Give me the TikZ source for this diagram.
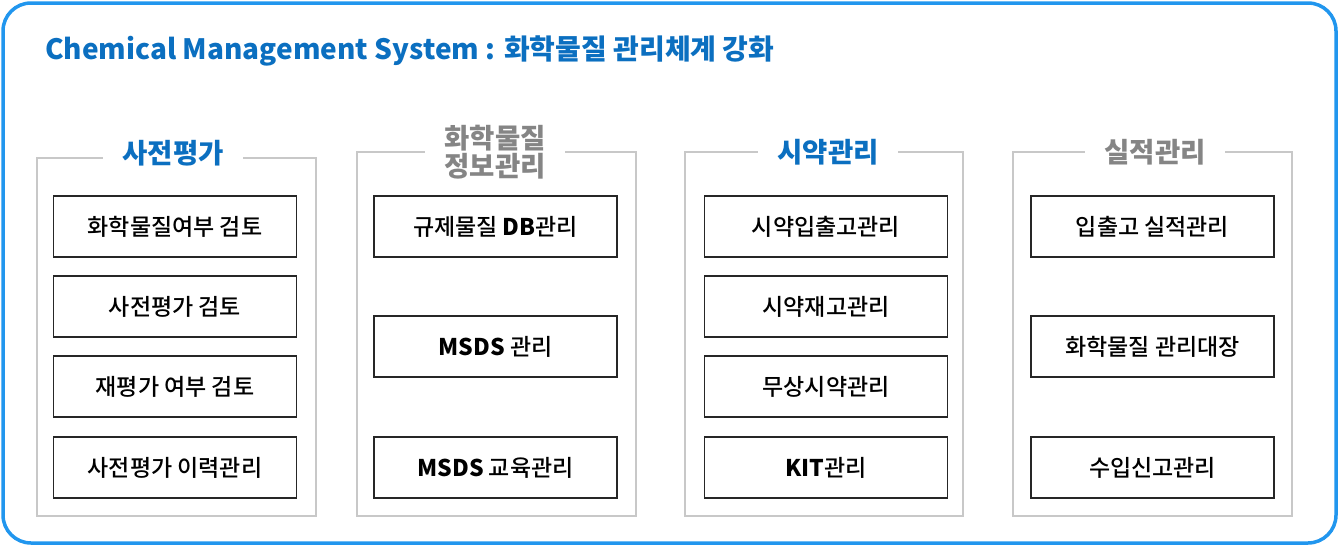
\documentclass[tikz,border=0pt]{standalone}
\usepackage{fontspec}
\setmainfont{Noto Sans CJK KR}
\newfontfamily\itemfont{Noto Sans CJK KR Medium}
\definecolor{frameblue}{HTML}{2196EE}
\definecolor{headblue}{HTML}{0B6FC0}
\definecolor{headgray}{HTML}{858585}
\definecolor{linegray}{HTML}{C8C8C8}

\begin{document}
\begin{tikzpicture}[
		x=1pt,y=-1pt,
		outer/.style={draw=frameblue,line width=3.5pt,rounded corners=28pt},
		group/.style={draw=linegray,line width=1.3pt},
		item/.style={draw=black!85,line width=1.3pt,minimum width=243pt,minimum height=61pt,inner sep=0pt,font=\itemfont\fontsize{23}{27}\selectfont},
		head/.style={fill=white,inner xsep=19pt,inner ysep=1pt,align=center,font=\bfseries\fontsize{27.5}{28}\selectfont}
		]
		\useasboundingbox (0,0) rectangle (1339,546);
		\draw[outer] (3,3) rectangle (1336,543);
		\node[anchor=west,inner sep=0pt,text=headblue,font=\bfseries\fontsize{28}{30}\selectfont] (title) at (45,51) {Chemical Management System : 화학물질 관리체계 강화};
		
		% frames
		\draw[group] (37,158) rectangle (316,516);
		\draw[group] (357,152) rectangle (636,516);
		\draw[group] (685,152) rectangle (963,516);
		\draw[group] (1013,152) rectangle (1292,516);
		
		% headings
		\node[head,text=headblue] (pre) at (173,153) {사전평가};
		\node[head,text=headgray] (info) at (495,152) {화학물질\\정보관리};
		\node[head,text=headblue] (reag) at (828,152) {시약관리};
		\node[head,text=headgray] (perf) at (1155,152) {실적관리};
		
		% items
		\node[item] (pre1) at (175,226.5) {화학물질여부 검토};
		\node[item] (pre2) at (175,306.5) {사전평가 검토};
		\node[item] (pre3) at (175,386.5) {재평가 여부 검토};
		\node[item] (pre4) at (175,467.5) {사전평가 이력관리};
		
		\node[item] (info1) at (495.5,226.5) {규제물질 \textbf{DB}관리};
		\node[item] (info2) at (495.5,346.5) {\textbf{MSDS} 관리};
		\node[item] (info3) at (495.5,467.5) {\textbf{MSDS} 교육관리};
		
		\node[item] (reag1) at (826,226.5) {시약입출고관리};
		\node[item] (reag2) at (826,306.5) {시약재고관리};
		\node[item] (reag3) at (826,386.5) {무상시약관리};
		\node[item] (reag4) at (826,467.5) {\textbf{KIT}관리};
		
		\node[item] (perf1) at (1152.5,226.5) {입출고 실적관리};
		\node[item] (perf2) at (1152.5,346.5) {화학물질 관리대장};
		\node[item] (perf3) at (1152.5,467.5) {수입신고관리};
\end{tikzpicture}
\end{document}
